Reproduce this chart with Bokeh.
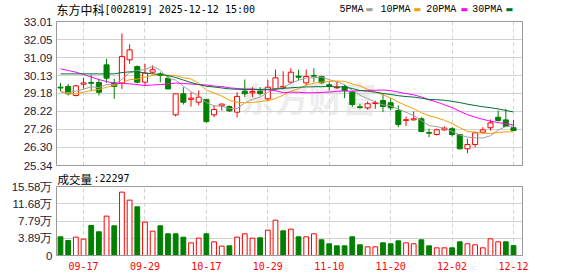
from bokeh.plotting import figure
from bokeh.layouts import column
from bokeh.models import (Range1d, FixedTicker, Label, CustomJSTickFormatter,
                          ColumnDataSource, Grid, BoxAnnotation)
from bokeh.embed import file_html
from bokeh.resources import INLINE

# ---------------- data ----------------
dates = ["09-12", "09-15", "09-16", "09-17", "09-18", "09-19", "09-22", "09-23", "09-24", "09-25",
         "09-26", "09-29", "09-30", "10-09", "10-10", "10-13", "10-14", "10-15", "10-16", "10-17",
         "10-20", "10-21", "10-22", "10-23", "10-24", "10-27", "10-28", "10-29", "10-30", "10-31",
         "11-03", "11-04", "11-05", "11-06", "11-07", "11-10", "11-11", "11-12", "11-13", "11-14",
         "11-17", "11-18", "11-19", "11-20", "11-21", "11-24", "11-25", "11-26", "11-27", "11-28",
         "12-01", "12-02", "12-03", "12-04", "12-05", "12-08", "12-09", "12-10", "12-11", "12-12"]
tick_labels = ["09-17", "09-29", "10-17", "10-29", "11-10", "11-20", "12-02", "12-12"]

open_ = [29.51, 29.55, 29.07, 29.67, 29.76, 29.76, 30.70, 29.74, 29.74, 30.97,
         30.61, 29.78, 30.31, 30.22, 29.99, 28.04, 29.16, 28.86, 28.71, 28.86,
         28.04, 28.52, 28.48, 28.18, 29.30, 29.21, 29.30, 28.89, 29.42, 29.49,
         29.78, 30.10, 29.74, 30.14, 30.08, 29.64, 29.48, 29.55, 29.24, 28.47,
         28.41, 28.64, 28.80, 28.68, 28.27, 27.74, 27.77, 27.83, 27.10, 26.99,
         27.24, 27.30, 26.99, 26.23, 26.46, 27.11, 27.35, 27.91, 27.77, 27.35]
high = [29.74, 29.69, 29.64, 30.01, 30.19, 29.96, 31.02, 29.96, 32.37, 31.79,
        30.67, 30.76, 30.67, 30.31, 30.13, 29.19, 29.51, 29.24, 29.33, 28.89,
        28.54, 28.64, 28.54, 29.24, 29.92, 29.51, 29.51, 29.90, 30.45, 30.36,
        30.52, 30.44, 30.45, 30.52, 30.13, 29.78, 29.81, 29.64, 29.33, 28.63,
        28.75, 28.80, 29.16, 28.93, 28.54, 27.95, 28.22, 27.91, 27.30, 27.30,
        27.42, 27.38, 27.03, 26.76, 27.15, 27.38, 27.79, 28.27, 28.36, 27.77]
low = [29.30, 29.07, 29.02, 29.42, 29.30, 29.07, 29.74, 28.89, 29.42, 30.76,
       29.71, 29.60, 30.22, 29.78, 29.39, 27.95, 28.59, 28.48, 28.54, 27.61,
       27.91, 28.27, 28.18, 27.91, 28.98, 28.98, 29.07, 28.80, 29.33, 29.39,
       29.69, 29.87, 29.60, 29.78, 29.69, 29.33, 29.42, 28.93, 28.45, 28.36,
       28.31, 28.36, 28.18, 28.27, 27.38, 27.44, 27.74, 27.11, 26.85, 26.94,
       27.20, 26.89, 26.19, 25.99, 26.31, 27.08, 27.20, 27.68, 27.38, 27.17]
close = [29.47, 29.16, 29.58, 29.74, 29.72, 29.24, 29.99, 29.55, 31.15, 31.50,
         29.78, 30.26, 30.44, 30.13, 29.42, 29.16, 28.71, 28.93, 28.98, 27.68,
         28.32, 28.61, 28.25, 29.02, 29.16, 29.28, 29.18, 29.51, 30.01, 29.55,
         30.31, 30.04, 30.08, 30.10, 29.74, 29.57, 29.51, 29.33, 28.59, 28.43,
         28.63, 28.68, 28.48, 28.41, 27.52, 27.78, 27.83, 27.15, 27.06, 27.24,
         27.33, 26.99, 26.23, 26.46, 27.08, 27.24, 27.61, 27.74, 27.42, 27.20]
# volume in 万 (10k lots)
volume = [4.22, 3.39, 4.14, 3.69, 6.78, 5.35, 8.89, 6.70, 14.31, 12.50,
          10.99, 7.53, 5.50, 6.70, 4.90, 4.90, 4.14, 2.86, 3.92, 4.90,
          3.09, 2.11, 2.18, 4.14, 4.90, 3.92, 3.99, 5.72, 7.98, 5.57,
          5.95, 4.22, 4.22, 4.90, 3.54, 2.64, 2.18, 2.18, 4.22, 2.41,
          1.96, 1.96, 2.86, 2.64, 3.31, 2.86, 2.64, 3.54, 2.18, 1.73,
          1.73, 1.73, 3.09, 2.64, 2.41, 1.73, 3.77, 3.09, 3.09, 2.2297]

# moving-average values read off the chart where earlier history is not shown
ma5_lead = [29.25, 29.22, 29.30, 29.40]
ma10_lead = [29.30, 29.16, 29.16, 29.24, 29.33, 29.39, 29.51, 29.60, 29.74]
ma20_lead = [30.49, 30.40, 30.31, 30.19, 30.05, 29.92, 29.81, 29.73, 29.71, 29.69,
             29.65, 29.60, 29.63, 29.65, 29.68, 29.73, 29.71, 29.68, 29.65]
ma30_lead = [30.22, 30.22, 30.22, 30.22, 30.22, 30.22, 30.22, 30.22, 30.29, 30.33,
             30.33, 30.27, 30.22, 30.19, 30.13, 30.03, 29.89, 29.76, 29.65, 29.56,
             29.52, 29.47, 29.42, 29.40, 29.39, 29.39, 29.39, 29.40, 29.41]

price_ticks = [25.34, 26.30, 27.26, 28.22, 29.18, 30.13, 31.09, 32.05, 33.01]
vol_ticks = [0, 3.89, 7.79, 11.68, 15.58]

title_name = "东方中科"
title_rest = "[002819] 2025-12-12 15:00"
vol_title = "成交量"
vol_last = ":22297"
ma_names = ["5PMA", "10PMA", "20PMA", "30PMA"]
ma_colors = ["#a0a0a0", "#f5a000", "#ff00ff", "#006f35"]

# ---------------- derived ----------------
n = len(close)
idx = list(range(n))


def moving_average(period, lead):
    out = list(lead)
    for i in range(len(lead), n):
        out.append(sum(close[i - period + 1:i + 1]) / period)
    return out


mas = [moving_average(5, ma5_lead), moving_average(10, ma10_lead),
       moving_average(20, ma20_lead), moving_average(30, ma30_lead)]

UP = "#ff0000"
DOWN = "#008000"
c_color = [UP if c >= o else DOWN for o, c in zip(open_, close)]
c_fill = ["#ffffff" if c >= o else DOWN for o, c in zip(open_, close)]
v_up = [close[0] >= open_[0]] + [close[i] >= close[i - 1] for i in range(1, n)]
v_color = [UP if u else DOWN for u in v_up]
v_fill = ["#ffffff" if u else DOWN for u in v_up]

tick_pos = [dates.index(t) for t in tick_labels]

src = ColumnDataSource(dict(
    x=idx, high=high, low=low,
    top=[max(o, c) for o, c in zip(open_, close)],
    bottom=[min(o, c) for o, c in zip(open_, close)],
    color=c_color, fill=c_fill, vol=volume, vcolor=v_color, vfill=v_fill))

# ---------------- layout constants (pixels) ----------------
W = 578
PLOT_L, PLOT_R = 56, 522          # border of both panels
PRICE_T, PRICE_B = 21, 165        # price panel border (page y)
VOL_T, VOL_B = 186, 255           # volume panel border (page y)
SPLIT = 170                       # page y where the volume figure starts
PAD = 1                           # frame padding around the drawn borders

GRID_C = "#d2d2d2"
FRAME_C = "#9a9a9a"
LABEL_FONT = "Liberation Sans"

X_LO, X_HI = -0.52, n + 0.17
kx = (PLOT_R - PLOT_L) / (X_HI - X_LO)
xr = Range1d(X_LO - PAD / kx, X_HI + PAD / kx)

k1 = (PRICE_B - PRICE_T) / (price_ticks[-1] - price_ticks[0])
yr1 = Range1d(price_ticks[0] - PAD / k1, price_ticks[-1] + PRICE_T / k1)
k2 = (VOL_B - VOL_T) / (vol_ticks[-1] - vol_ticks[0])
yr2 = Range1d(vol_ticks[0] - PAD / k2, vol_ticks[-1] + (VOL_T - SPLIT) / k2)


def txt(x, y, text, font, size, color="#000000", **kw):
    return Label(x=x, y=y, x_units="screen", y_units="screen", text=text, text_font=font,
                 text_font_size=size, text_color=color, text_baseline="middle", **kw)


def add_grids(p, yticks, lo, hi):
    hg = Grid(dimension=1, ticker=FixedTicker(ticks=yticks), grid_line_color=GRID_C)
    vg = Grid(dimension=0, ticker=FixedTicker(ticks=tick_pos), grid_line_color=GRID_C,
              grid_line_dash="4 3")
    try:
        hg.cross_bounds = (X_LO, X_HI)
        vg.cross_bounds = (lo, hi)
        p.add_layout(hg)
        p.add_layout(vg)
    except Exception:
        p.segment(x0=[X_LO] * len(yticks), y0=yticks, x1=[X_HI] * len(yticks), y1=yticks,
                  line_color=GRID_C)
        p.segment(x0=tick_pos, y0=[lo] * len(tick_pos), x1=tick_pos, y1=[hi] * len(tick_pos),
                  line_color=GRID_C, line_dash="4 3")
    p.add_layout(BoxAnnotation(left=X_LO, right=X_HI, bottom=lo, top=hi, fill_color=None,
                               line_color=FRAME_C, line_alpha=1.0, line_width=1))


def style_y(ax, ticks):
    ax.ticker = FixedTicker(ticks=ticks)
    ax.major_tick_line_color = None
    ax.minor_tick_line_color = None
    ax.major_tick_out = 0
    ax.major_tick_in = 0
    ax.axis_line_color = None
    ax.major_label_standoff = 3
    ax.major_label_text_font = LABEL_FONT
    ax.major_label_text_font_size = "11.5px"
    ax.major_label_text_color = "#1c1c3a"


# ---------------- price figure (header lives in its frame) ----------------
h1 = SPLIT
p1 = figure(width=W, height=h1, x_range=xr, y_range=yr1,
            output_backend="svg", toolbar_location=None, x_axis_location=None,
            min_border_left=PLOT_L - PAD, min_border_right=W - PLOT_R - PAD,
            min_border_top=0, min_border_bottom=h1 - PRICE_B - PAD)
p1.grid.visible = False
p1.outline_line_color = None
p1.border_fill_color = "#ffffff"
add_grids(p1, price_ticks, price_ticks[0], price_ticks[-1])
style_y(p1.yaxis[0], price_ticks)
p1.yaxis[0].formatter = CustomJSTickFormatter(code="return tick.toFixed(2);")

f1_bottom = PRICE_B + PAD      # page y of frame bottom
fx0 = PLOT_L - PAD             # page x of frame left


def at1(px, py):
    return px - fx0, f1_bottom - py


# watermark
wx, wy = at1(308, 97)
p1.add_layout(Label(x=wx, y=wy, x_units="screen", y_units="screen", text="东方财富",
                    text_font="Noto Sans CJK SC", text_font_style="bold", text_font_size="34px",
                    text_color="#d8d8d8", text_alpha=0.45, text_align="center",
                    text_baseline="middle", level="underlay"))

p1.segment(x0="x", y0="high", x1="x", y1="low", line_color="color", line_width=1, source=src)
p1.vbar(x="x", width=0.66, top="top", bottom="bottom", fill_color="fill", line_color="color",
        line_width=1, source=src)
for vals, col in zip(mas, ma_colors):
    p1.line(idx, vals, line_color=col, line_width=1)

# header: title + legend
p1.add_layout(txt(*at1(56, 9), title_name, "Noto Sans CJK SC", "12px"))
p1.add_layout(txt(*at1(104, 9), title_rest, "DejaVu Sans Mono", "10px"))
leg_x = [339, 380, 425.7, 471.7]
sw_x = [365, 413, 460, 505]
for name, col, lx, sx in zip(ma_names, ma_colors, leg_x, sw_x):
    p1.add_layout(txt(*at1(lx, 9), name, "Liberation Mono", "10px"))
    p1.add_layout(txt(*at1(sx, 9), "▬", "DejaVu Sans", "8px", col))

# ---------------- volume figure ----------------
h2 = 276 - SPLIT
p2 = figure(width=W, height=h2, x_range=xr, y_range=yr2,
            output_backend="svg", toolbar_location=None,
            min_border_left=PLOT_L - PAD, min_border_right=W - PLOT_R - PAD,
            min_border_top=0, min_border_bottom=276 - VOL_B - PAD)
p2.grid.visible = False
p2.outline_line_color = None
p2.border_fill_color = "#ffffff"
add_grids(p2, vol_ticks, vol_ticks[0], vol_ticks[-1])
style_y(p2.yaxis[0], vol_ticks)
p2.yaxis[0].formatter = CustomJSTickFormatter(
    code="return tick == 0 ? '0' : tick.toFixed(2) + '万';")

xa = p2.xaxis[0]
xa.ticker = FixedTicker(ticks=tick_pos)
xa.major_label_overrides = {pos: lab for pos, lab in zip(tick_pos, tick_labels)}
xa.major_tick_line_color = None
xa.minor_tick_line_color = None
xa.major_tick_out = 0
xa.major_tick_in = 0
xa.axis_line_color = None
xa.major_label_standoff = 5
xa.major_label_text_font = "DejaVu Sans Mono"
xa.major_label_text_font_size = "10px"
xa.major_label_text_color = "#ff0000"

p2.vbar(x="x", width=0.62, top="vol", bottom=0, fill_color="vfill", line_color="vcolor",
        line_width=1, source=src)

f2_bottom = VOL_B + PAD


def at2(px, py):
    return px - fx0, f2_bottom - py


p2.add_layout(txt(*at2(57, 178), vol_title, "Noto Sans CJK SC", "11.5px"))
p2.add_layout(txt(*at2(93, 178), vol_last, "DejaVu Sans Mono", "10px"))

layout = column(p1, p2, spacing=0)
open("out.html", "w").write(file_html(layout, INLINE))
